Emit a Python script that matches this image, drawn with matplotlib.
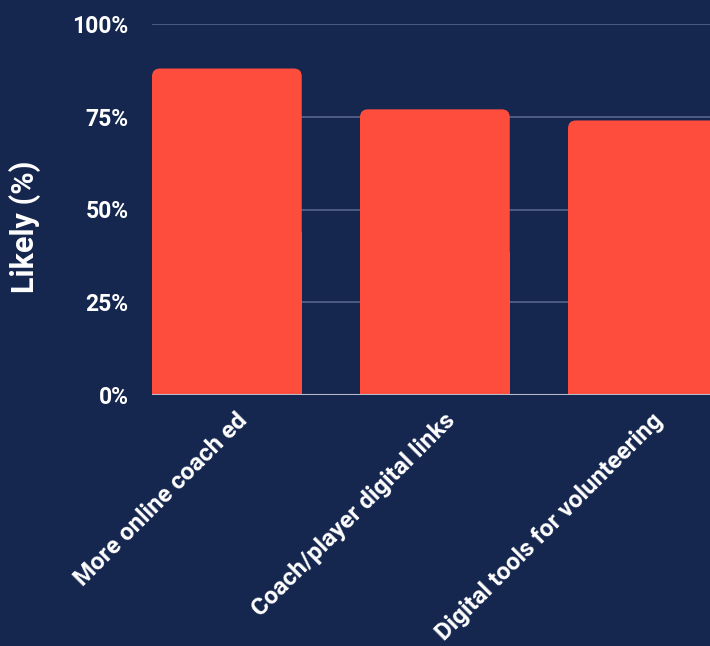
import matplotlib
matplotlib.use("Agg")
import matplotlib.pyplot as plt
from matplotlib.patches import FancyBboxPatch
import matplotlib.transforms as mtransforms

# data
categories = ["More online coach ed", "Coach/player digital links", "Digital tools for volunteering"]
likely = [88, 77, 74]
yticks = [0, 25, 50, 75, 100]
ytick_labels = ["0%", "25%", "50%", "75%", "100%"]

bg = "#15264f"
bar_color = "#ff4d3d"
grid_color = "#56658a"

plt.rcParams['font.family'] = ['Roboto', 'DejaVu Sans']

fig = plt.figure(figsize=(7.10, 6.46), dpi=100, facecolor=bg)
ax = fig.add_axes([152 / 710, (646 - 395) / 646, (710 - 152) / 710, 371 / 646])
ax.set_facecolor(bg)

width = 0.72
xlim_left = -width / 2
xlim_right = xlim_left + (710 - 152) / 208
ax.set_xlim(xlim_left, xlim_right)
ax.set_ylim(0, 100)

# pixels per data unit, for rounded corners
px_x = 208.0
px_y = 371 / 100.0
radius_px = 8
for i, v in enumerate(likely):
    patch = FancyBboxPatch((i - width / 2, 0), width, v,
                           boxstyle="round,pad=0,rounding_size=%f" % (radius_px / px_x),
                           mutation_aspect=px_x / px_y,
                           facecolor=bar_color, edgecolor="none", zorder=3)
    ax.add_patch(patch)
    # square off the bottom corners
    ax.bar(i, v / 2, width=width, color=bar_color, zorder=3, linewidth=0)

for y in yticks[1:]:
    ax.axhline(y, color=grid_color, lw=1.2, zorder=1)
ax.axhline(0, color="#b8bccb", lw=1.5, zorder=4)

for s in ax.spines.values():
    s.set_visible(False)

ax.set_yticks(yticks)
ax.set_yticklabels(ytick_labels, color="white", fontsize=16.5, fontweight="bold")
ax.tick_params(axis="y", length=0, pad=17)
ax.set_xticks(range(len(categories)))
ax.set_xticklabels([])
ax.tick_params(axis="x", length=0)

offset = mtransforms.ScaledTranslation(17 / 100, -22 / 100, fig.dpi_scale_trans)
for i, c in enumerate(categories):
    ax.text(i, 0, c, rotation=45, ha="right", va="center", rotation_mode="anchor",
            color="white", fontsize=17.5, fontweight="bold",
            transform=ax.get_xaxis_transform() + offset, clip_on=False)

fig.text(25 / 710, 1 - 227 / 646, "Likely (%)", rotation=90, ha="center", va="center",
         color="white", fontsize=22, fontweight="bold")

fig.savefig("out.png", dpi=100, facecolor=bg)
